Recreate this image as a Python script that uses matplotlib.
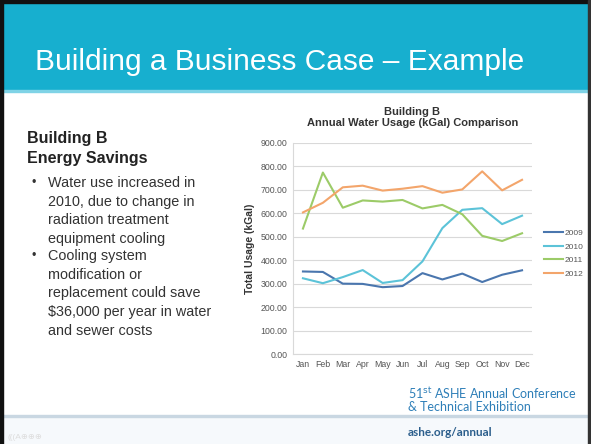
import matplotlib
matplotlib.use('Agg')
import matplotlib.pyplot as plt
from matplotlib.patches import Rectangle

months = ['Jan', 'Feb', 'Mar', 'Apr', 'May', 'Jun', 'Jul', 'Aug', 'Sep', 'Oct', 'Nov', 'Dec']
years = ['2009', '2010', '2011', '2012']
usage_2009 = [352, 350, 300, 299, 285, 290, 345, 318, 343, 307, 338, 357]
usage_2010 = [323, 302, 328, 358, 303, 315, 395, 537, 615, 622, 554, 590]
usage_2011 = [535, 774, 624, 655, 650, 657, 621, 636, 596, 504, 482, 515]
usage_2012 = [604, 645, 711, 718, 697, 705, 716, 688, 702, 779, 698, 743]
yticks = [0, 100, 200, 300, 400, 500, 600, 700, 800, 900]
colors = ['#4A76AE', '#5CC3D8', '#9CCB68', '#F3A56B']

plt.rcParams['font.family'] = ['Liberation Sans', 'DejaVu Sans']

fig = plt.figure(figsize=(5.91, 4.44), dpi=100)
W, H = 591, 444


def rect(x, y, w, h, color):
    # pixel coords from top-left
    fig.patches.append(Rectangle((x / W, 1 - (y + h) / H), w / W, h / H,
                                 transform=fig.transFigure, color=color, zorder=0))


# slide background, banner, footer
rect(0, 0, W, H, 'white')
rect(0, 416, W, 28, '#F6F9FC')
rect(0, 415, W, 2, '#C9D7E2')
rect(0, 0, W, 91, '#17AFCF')
rect(0, 90, W, 2, '#7FD3E6')
rect(0, 0, W, 3, '#111111')
rect(0, 0, 3, H, '#111111')
rect(588, 0, 3, H, '#333333')

fig.text(35 / W, 1 - 62 / H, 'Building a Business Case \u2013 Example', color='white',
         fontsize=21.5, va='center', ha='left')

# left text block
fig.text(27 / W, 1 - 138 / H, 'Building B', fontsize=11.5, fontweight='bold',
         color='#222222', va='center')
fig.text(27 / W, 1 - 158 / H, 'Energy Savings', fontsize=11.5, fontweight='bold',
         color='#222222', va='center')
bullets = [
    (183, ['Water use increased in', '2010, due to change in',
           'radiation treatment', 'equipment cooling']),
    (256, ['Cooling system', 'modification or', 'replacement could save',
           '$36,000 per year in water', 'and sewer costs']),
]
for y0, lines in bullets:
    fig.text(31 / W, 1 - y0 / H, '\u2022', fontsize=9, color='#333333', va='center')
    for i, line in enumerate(lines):
        fig.text(48 / W, 1 - (y0 + i * 18.7) / H, line, fontsize=10.4, color='#333333',
                 va='center')

# chart
ax = fig.add_axes([293 / W, 1 - 354 / H, 239 / W, 211 / H])
ax.set_zorder(3)
x = range(len(months))
for yr, vals, c in zip(years, [usage_2009, usage_2010, usage_2011, usage_2012], colors):
    ax.plot(x, vals, color=c, linewidth=1.5, label=yr)

ax.set_xlim(-0.5, 11.5)
ax.set_ylim(0, 900)
ax.set_yticks(yticks)
ax.set_yticklabels(['%.2f' % v for v in yticks])
ax.set_xticks(list(x))
ax.set_xticklabels(months)
ax.tick_params(axis='both', labelsize=6.3, colors='#555555', length=0, pad=4)
ax.grid(axis='y', color='#D9D9D9', linewidth=0.8)
ax.set_axisbelow(True)
for s in ['top', 'right']:
    ax.spines[s].set_visible(False)
ax.spines['left'].set_color('#D9D9D9')
ax.spines['bottom'].set_color('#D9D9D9')
ax.set_ylabel('Total Usage (kGal)', fontsize=7.5, fontweight='bold', color='#333333',
              labelpad=4)
ax.set_title('Building B\nAnnual Water Usage (kGal) Comparison', fontsize=8,
             fontweight='bold', color='#333333', pad=12, linespacing=1.2)
ax.legend(loc='center left', bbox_to_anchor=(1.05, 0.476), frameon=False, fontsize=6,
          handlelength=2.3, handletextpad=0.15, labelspacing=0.7,
          borderaxespad=0, borderpad=0, labelcolor='#555555')

# footer
fig.text(408 / W, 1 - 393.5 / H, '51$^{\\rm st}$ ASHE Annual Conference', fontsize=9,
         color='#2E7FB8', va='center', family=['Lato', 'DejaVu Sans'])
fig.text(408 / W, 1 - 406.5 / H, '& Technical Exhibition', fontsize=9,
         color='#2E7FB8', va='center', family=['Lato', 'DejaVu Sans'])
fig.text(408 / W, 1 - 432 / H, 'ashe.org/annual', fontsize=8.5, fontweight='bold',
         color='#2B5E8C', va='center', family=['Lato', 'DejaVu Sans'])
fig.text(8 / W, 1 - 437 / H, '(((A\u2295\u2295\u2295', fontsize=6, color='#DDDDDD',
         va='center')

fig.savefig('out.png', dpi=100)
